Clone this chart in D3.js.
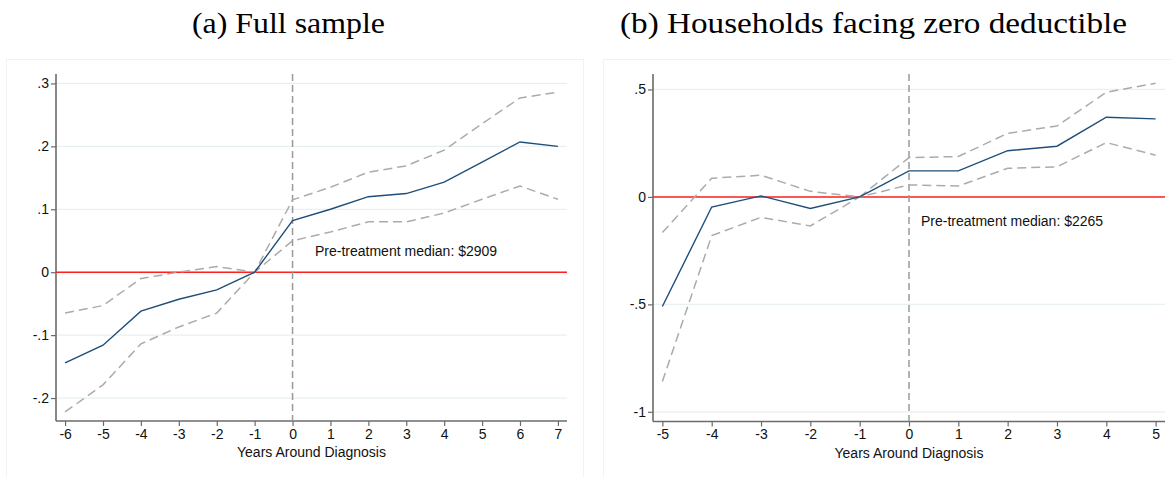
<!DOCTYPE html>
<html>
<head>
<meta charset="utf-8">
<script src="https://cdn.jsdelivr.net/npm/d3@7"></script>
<style>
  html, body { margin: 0; padding: 0; background: #fff; }
  svg { display: block; }
  .tick text { font-family: "Liberation Sans", Arial, sans-serif; font-size: 14px; fill: #111; }
</style>
</head>
<body>
<svg id="chart" width="1172" height="477"></svg>
<script>
// Event-study estimates, panel (a): full sample
const yearsA = [-6, -5, -4, -3, -2, -1, 0, 1, 2, 3, 4, 5, 6, 7];
const estA   = [-0.144, -0.116, -0.062, -0.043, -0.028, 0, 0.082, 0.100, 0.120, 0.125, 0.143, 0.175, 0.207, 0.200];
const upperA = [-0.065, -0.053, -0.010, 0.000, 0.009, 0, 0.115, 0.135, 0.159, 0.169, 0.194, 0.236, 0.277, 0.286];
const lowerA = [-0.222, -0.179, -0.114, -0.087, -0.065, 0, 0.050, 0.064, 0.080, 0.080, 0.094, 0.116, 0.137, 0.116];
const yTicksA = [-0.2, -0.1, 0, 0.1, 0.2, 0.3];
const yLabelsA = ["-.2", "-.1", "0", ".1", ".2", ".3"];

// Panel (b): households facing zero deductible
const yearsB = [-5, -4, -3, -2, -1, 0, 1, 2, 3, 4, 5];
const estB   = [-0.510, -0.047, 0.005, -0.054, 0, 0.121, 0.121, 0.215, 0.236, 0.371, 0.363];
const upperB = [-0.166, 0.087, 0.101, 0.026, 0, 0.183, 0.188, 0.296, 0.330, 0.487, 0.529];
const lowerB = [-0.859, -0.180, -0.095, -0.135, 0, 0.056, 0.051, 0.133, 0.140, 0.253, 0.194];
const yTicksB = [-1, -0.5, 0, 0.5];
const yLabelsB = ["-1", "-.5", "0", ".5"];

const titles = ["(a) Full sample", "(b) Households facing zero deductible"];
const notes = ["Pre-treatment median: $2909", "Pre-treatment median: $2265"];
const xTitle = "Years Around Diagnosis";

const svg = d3.select("#chart");

const panels = [
  { years: yearsA, est: estA, upper: upperA, lower: lowerA, yTicks: yTicksA, yLabels: yLabelsA,
    title: titles[0], note: notes[0],
    box: [6, 59, 583, 490], plot: [56, 74, 567, 421],
    xDom: [-6.24, 7.24], yDom: [-0.2365, 0.315], titleX: 288.5, titleW: 193, noteAt: [315, 256] },
  { years: yearsB, est: estB, upper: upperB, lower: lowerB, yTicks: yTicksB, yLabels: yLabelsB,
    title: titles[1], note: notes[1],
    box: [603, 59, 1180, 490], plot: [653, 74, 1165, 421.5],
    xDom: [-5.19, 5.19], yDom: [-1.045, 0.572], titleX: 873.5, titleW: 507, noteAt: [921, 226] }
];

panels.forEach(p => {
  const g = svg.append("g");
  const [bx0, by0, bx1, by1] = p.box;
  g.append("rect").attr("x", bx0 + 0.5).attr("y", by0 + 0.5)
    .attr("width", bx1 - bx0).attr("height", by1 - by0)
    .attr("fill", "#fff").attr("stroke", "#f1f3f3").attr("stroke-width", 1);

  const [px0, py0, px1, py1] = p.plot;
  const x = d3.scaleLinear().domain(p.xDom).range([px0, px1]);
  const y = d3.scaleLinear().domain(p.yDom).range([py1, py0]);

  // Horizontal gridlines
  g.append("g").selectAll("line").data(p.yTicks).join("line")
    .attr("x1", px0).attr("x2", px1)
    .attr("y1", d => y(d)).attr("y2", d => y(d))
    .attr("stroke", "#e8f0f2").attr("stroke-width", 1.2);

  // Axes
  const yAxis = d3.axisLeft(y).tickValues(p.yTicks)
    .tickFormat((d, i) => p.yLabels[i]).tickSize(5).tickPadding(2);
  const ya = g.append("g").attr("transform", `translate(${px0},0)`).call(yAxis);
  ya.select(".domain").attr("d", `M0,${py0}V${py1}`);

  const xAxis = d3.axisBottom(x).tickValues(p.years).tickFormat(d => String(d))
    .tickSize(5).tickPadding(2);
  const xa = g.append("g").attr("transform", `translate(0,${py1})`).call(xAxis);
  xa.select(".domain").attr("d", `M${px0},0H${px1}`);

  [ya, xa].forEach(a => {
    a.select(".domain").attr("stroke", "#6b6b6b").attr("stroke-width", 1.6);
    a.selectAll(".tick line").attr("stroke", "#6b6b6b").attr("stroke-width", 1.2);
  });
  xa.selectAll(".tick text").attr("dy", "0.75em");

  // Zero reference line
  g.append("line").attr("x1", px0).attr("x2", px1)
    .attr("y1", y(0)).attr("y2", y(0))
    .attr("stroke", "#ff2020").attr("stroke-width", 1.5);

  // Diagnosis year marker
  g.append("line").attr("x1", x(0)).attr("x2", x(0))
    .attr("y1", py0).attr("y2", py1)
    .attr("stroke", "#999").attr("stroke-width", 1.5)
    .attr("stroke-dasharray", "7,4");

  const line = vals => d3.line().x((d, i) => x(p.years[i])).y(d => y(d))(vals);

  // Confidence bands
  [p.upper, p.lower].forEach(vals => {
    g.append("path").attr("d", line(vals)).attr("fill", "none")
      .attr("stroke", "#ababab").attr("stroke-width", 1.5)
      .attr("stroke-dasharray", "9,5");
  });

  // Point estimates
  g.append("path").attr("d", line(p.est)).attr("fill", "none")
    .attr("stroke", "#1f4e79").attr("stroke-width", 1.4);

  // Annotation
  g.append("text").attr("x", p.noteAt[0]).attr("y", p.noteAt[1])
    .attr("font-family", "Liberation Sans, Arial, sans-serif").attr("font-size", 14)
    .attr("fill", "#111").text(p.note);

  // Axis title
  g.append("text").attr("x", (px0 + px1) / 2).attr("y", py1 + 36)
    .attr("text-anchor", "middle")
    .attr("font-family", "Liberation Sans, Arial, sans-serif").attr("font-size", 14)
    .attr("fill", "#111").text(xTitle);

  // Panel title
  svg.append("text").attr("x", p.titleX).attr("y", 33)
    .attr("text-anchor", "middle")
    .attr("font-family", "Liberation Serif, Times New Roman, serif").attr("font-size", 30)
    .attr("textLength", p.titleW).attr("lengthAdjust", "spacingAndGlyphs")
    .attr("fill", "#000").text(p.title);
});
</script>
</body>
</html>
